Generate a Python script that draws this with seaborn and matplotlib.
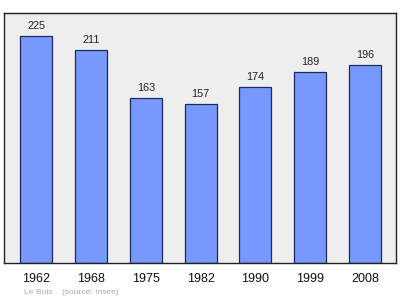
import matplotlib
matplotlib.use("Agg")
import matplotlib.pyplot as plt
import seaborn as sns
import pandas as pd

years = ["1962", "1968", "1975", "1982", "1990", "1999", "2008"]
population = [225, 211, 163, 157, 174, 189, 196]
footer = "Le Buis    (source: Insee)"

sns.set_style("white")
plt.rcParams['font.family'] = ['Liberation Sans', 'DejaVu Sans']

df = pd.DataFrame({"year": years, "pop": population})

fig = plt.figure(figsize=(4.0, 2.99), dpi=100)
ax = fig.add_axes([0.01, 0.1204, 0.98, 0.8361])
ax.set_facecolor("#eeeeee")

sns.barplot(data=df, x="year", y="pop", ax=ax, color="#7799ff", saturation=1,
            width=0.585, edgecolor="#1f2a5a", linewidth=0.9)

for i, v in enumerate(population):
    ax.annotate(str(v), (i, v), xytext=(0, 3.6), textcoords="offset points",
                ha="center", va="bottom", fontsize=7.8, color="#222222")

ax.set_xlim(-0.59, 6.57)
ax.set_ylim(0, 247.5)
ax.set_xlabel("")
ax.set_ylabel("")
ax.set_yticks([])
ax.tick_params(axis="x", length=0, labelsize=9, pad=7, colors="#111111")
for s in ax.spines.values():
    s.set_color("#222222")
    s.set_linewidth(1.0)

fig.text(0.06, 0.023, footer, fontsize=6.1, color="#aaaaaa", ha="left", va="center")

fig.savefig("out.png", dpi=100, facecolor="white")
